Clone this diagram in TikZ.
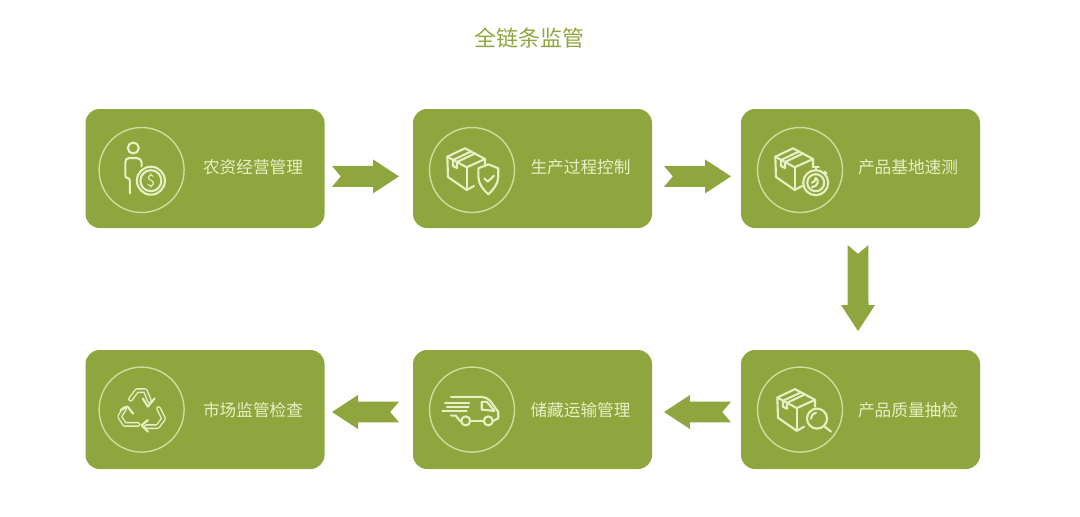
\documentclass[tikz,border=0pt]{standalone}
\usepackage{fontspec}
\newfontfamily\cjk{Noto Sans CJK SC}
\usetikzlibrary{calc}
\definecolor{leaf}{HTML}{8FA63F}
\definecolor{cream}{HTML}{E8EFC4}
\definecolor{hoop}{HTML}{D0DC9E}
\tikzset{
    stage/.style={rectangle, fill=leaf, draw=none, rounded corners=.35cm,
    	minimum width=5.975cm, minimum height=2.975cm, inner sep=0pt}
}
\tikzset{
    ring/.style={circle, draw=hoop, line width=1pt, minimum size=2.125cm, inner sep=0pt},
    stagetext/.style={text=cream, font=\cjk\fontsize{11.85}{14}\selectfont, inner sep=0pt},
    headtext/.style={text=leaf, font=\cjk\fontsize{15.65}{18}\selectfont, inner sep=0pt}
}
\tikzset{
    icon/.style={x=.025cm, y=-.025cm, draw=cream, line width=1.5pt, line join=round, line cap=round},
    outlined/.style={line width=1pt, double=leaf, double distance=1.5pt}
}
\tikzset{
	flow/.style={fill=leaf, draw=none, to path={
		($(\tikztostart)!.26cm!90:(\tikztotarget)$)
		-- ($(\tikztostart)!.22cm!(\tikztotarget)$)
		-- ($(\tikztostart)!.26cm!-90:(\tikztotarget)$)
		-- ($(\tikztotarget)!.70cm!22:(\tikztostart)$)
		-- ($(\tikztotarget)!.777cm!33.2:(\tikztostart)$)
		-- (\tikztotarget)
		-- ($(\tikztotarget)!.777cm!-33.2:(\tikztostart)$)
		-- ($(\tikztotarget)!.70cm!-22:(\tikztostart)$)
		-- cycle}}
}
\tikzset{
	carton/.pic={
		\draw (-7,-21.7) -- (13,-11) -- (13,-4);
		\draw (-7,-21.7) -- (-24.7,-13.3) -- (-24,7) -- (-5.3,20) -- (2,16);
		\draw (-24.7,-13.3) -- (-5.3,-2.7) -- (13,-11);
		\draw (-5.3,-2.7) -- (-5.3,20);
		\draw (-1,-18.5) -- (-19,-10) -- (-19,-4) -- (-15,-2) -- (-15,-8) -- (3,-16.5);
	},
	payer/.pic={
		\draw (-8.3,-22) circle (5.5);
		\draw (-11.7,23.3) -- (-11.7,10.7) .. controls (-11.7,7) and (-16.3,9) .. (-16.3,5.7)
			-- (-16.3,-7.7) .. controls (-16.3,-10.5) and (-15,-12) .. (-12.3,-12)
			-- (-5,-12) .. controls (-2,-12) and (0,-10) .. (0,-7.7) -- (0,-3.7);
		\draw (9.3,10.7) circle (14);
		\draw (9.3,10.7) circle (10.5);
		\node (payersign) [text=cream, font=\cjk\fontsize{11}{12}\selectfont, inner sep=0pt] at (9.3,10.7) {\$};
	},
	shield/.pic={
		\draw (16.3,-5.7) -- (26.3,-1.7) -- (26.3,6.7) .. controls (26.3,14) and (21,20) .. (16.3,24.3)
			.. controls (11.6,20) and (6.3,14) .. (6.3,6.7) -- (6.3,-1.7) -- cycle;
		\draw (12.3,8.3) -- (15.7,11.7) -- (22,5.7);
	},
	stopwatch/.pic={
		\draw (15.7,12.7) circle (12.5);
		\draw (15.7,12.7) circle (8.5);
		\draw (12.5,-3) -- (18.9,-3);
		\draw (15.7,-3) -- (15.7,0.2);
		\draw (24.5,1.5) -- (26.5,3.5);
		\draw (15.7,8) .. controls (19,10) and (19,16) .. (12,17);
		\draw (15.7,8) .. controls (15.7,11) and (14,12) .. (12,12.7);
	},
	lens/.pic={
		\draw (17,9) circle (10);
		\draw (11,9) .. controls (11,6) and (13,3.5) .. (16,3);
		\draw (24,16.5) -- (31,22);
	},
	van/.pic={
		\draw (-17,-12.7) -- (9.7,-12.7) .. controls (13,-12.7) and (16,-11) .. (18,-9)
			-- (26.3,2.3) -- (26.3,8.7) -- (21.3,11.3);
		\draw (9.7,-7.7) -- (9.7,0) -- (22.3,1.3);
		\draw (9.7,-7.7) -- (15,-7.7) -- (22.3,1.3);
		\draw (-6.3,11.3) circle (4.5);
		\draw (16.3,11.3) circle (4.5);
		\draw (-1.8,11.3) -- (11.8,11.3);
		\draw (-10.8,11.3) -- (-12,11.3) -- (-16.3,6) -- (-21,6);
		\draw (-21,-12.7) -- (-3.5,-12.7);
		\draw (-27,-6.7) -- (-3,-6.7);
		\draw (-25,-2.7) -- (-3.5,-2.7);
		\draw (-29.7,1.3) -- (-5.5,1.3);
	},
	recycle/.pic={
		\draw [outlined] (-11,-10.5) -- (-4.7,-19) -- (3.7,-19) -- (8,-8.5);
		\draw (1.3,-11) -- (6.3,-3) -- (13,-11.2);
		\draw [outlined] (-3.7,14.8) -- (-17,14.8) -- (-22,7) -- (-17,-1);
		\draw (-21,.5) -- (-14,-3) -- (-8.5,4);
		\draw [outlined] (17,-1) -- (22,9) -- (16,17) -- (4.7,17);
		\draw (6.3,10.5) -- (0,15.5) -- (6.3,22);
	}
}

\begin{document}
\begin{tikzpicture}
	\useasboundingbox (0cm, 0cm) rectangle (27cm, -12.9cm);

	\node (title) [headtext] at (13.225cm, -0.95cm) {全链条监管};

	\node (supply) [stage] at (5.125cm, -4.2125cm) {};
	\node (control) [stage] at (13.3125cm, -4.2125cm) {};
	\node (rapid) [stage] at (21.5125cm, -4.2125cm) {};
	\node (sampling) [stage] at (21.5125cm, -10.2375cm) {};
	\node (storage) [stage] at (13.3125cm, -10.2375cm) {};
	\node (market) [stage] at (5.125cm, -10.2375cm) {};

	\node (supplyring) [ring] at (3.54cm, -4.25cm) {};
	\node (controlring) [ring] at (11.8cm, -4.25cm) {};
	\node (rapidring) [ring] at (20cm, -4.25cm) {};
	\node (samplingring) [ring] at (20cm, -10.24cm) {};
	\node (storagering) [ring] at (11.8cm, -10.24cm) {};
	\node (marketring) [ring] at (3.54cm, -10.24cm) {};

	\node (supplytext) [stagetext] at (6.325cm, -4.17cm) {农资经营管理};
	\node (controltext) [stagetext] at (14.5125cm, -4.17cm) {生产过程控制};
	\node (rapidtext) [stagetext] at (22.7cm, -4.17cm) {产品基地速测};
	\node (samplingtext) [stagetext] at (22.7cm, -10.25cm) {产品质量抽检};
	\node (storagetext) [stagetext] at (14.5125cm, -10.25cm) {储藏运输管理};
	\node (markettext) [stagetext] at (6.325cm, -10.25cm) {市场监管检查};

	\pic [icon] at (supplyring) {payer};
	\pic [icon] at (controlring) {carton};
	\pic [icon] at (controlring) {shield};
	\pic [icon] at (rapidring) {carton};
	\pic [icon] at (rapidring) {stopwatch};
	\pic [icon] at ($(samplingring)+(.05cm,-.03cm)$) {carton};
	\pic [icon] at (samplingring) {lens};
	\pic [icon] at (storagering) {van};
	\pic [icon] at (marketring) {recycle};

	\coordinate (flow1a) at (8.3cm, -4.41cm);
	\coordinate (flow1b) at (9.975cm, -4.41cm);
	\coordinate (flow2a) at (16.6cm, -4.41cm);
	\coordinate (flow2b) at (18.275cm, -4.41cm);
	\coordinate (flow3a) at (21.45cm, -6.125cm);
	\coordinate (flow3b) at (21.45cm, -8.275cm);
	\coordinate (flow4a) at (18.275cm, -10.3cm);
	\coordinate (flow4b) at (16.6cm, -10.3cm);
	\coordinate (flow5a) at (9.975cm, -10.3cm);
	\coordinate (flow5b) at (8.3cm, -10.3cm);

	\draw [flow] (flow1a) to (flow1b);
	\draw [flow] (flow2a) to (flow2b);
	\draw [flow] (flow3a) to (flow3b);
	\draw [flow] (flow4a) to (flow4b);
	\draw [flow] (flow5a) to (flow5b);
\end{tikzpicture}
\end{document}
